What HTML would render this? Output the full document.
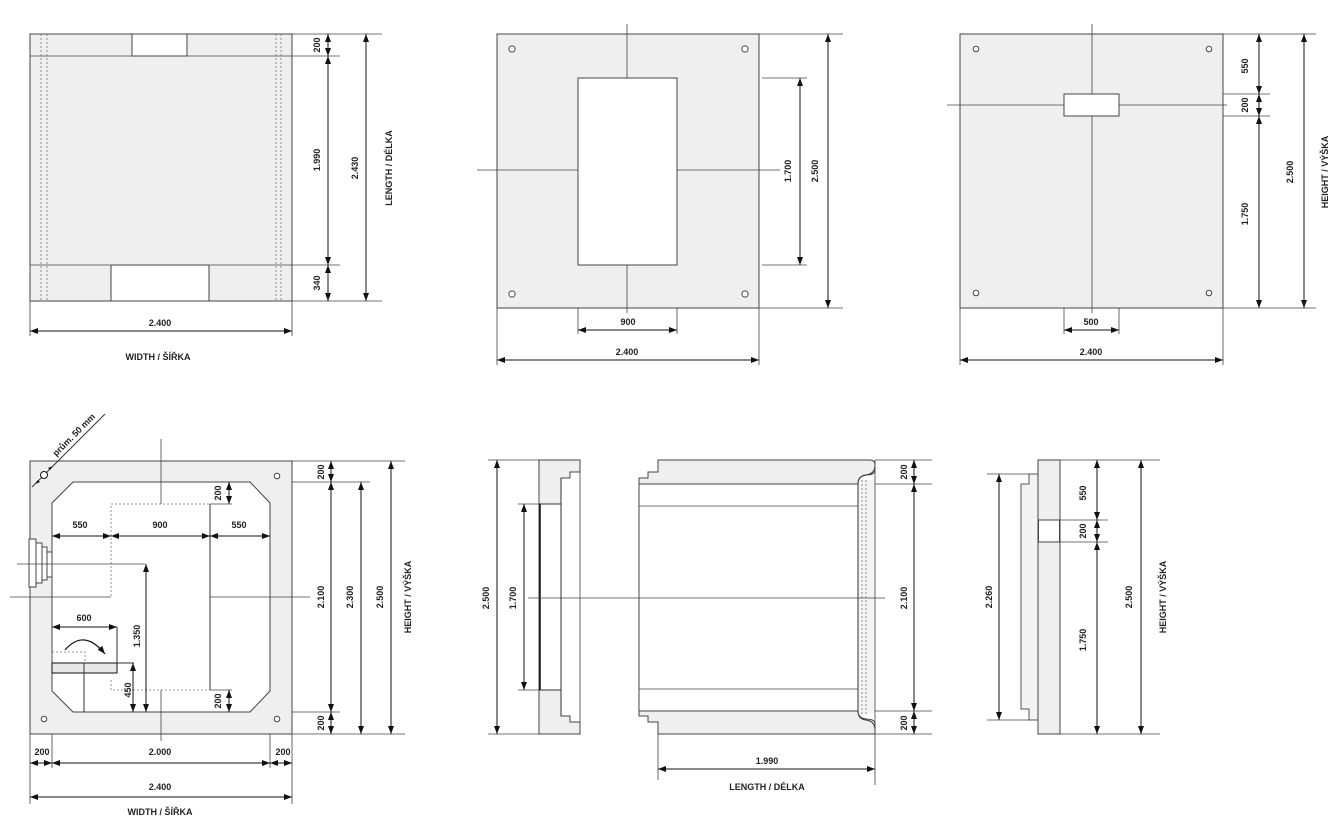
<!DOCTYPE html>
<html><head><meta charset="utf-8"><style>
html,body{margin:0;padding:0;background:#fff}
svg{display:block}
text{font-family:"Liberation Sans",Arial,sans-serif;font-weight:bold;font-size:9px;fill:#222}
.o{stroke:#333;stroke-width:1;fill:none}
.g{fill:#efefef;stroke:#444;stroke-width:1}
.w{fill:#fff;stroke:#444;stroke-width:1}
.t{stroke:#444;stroke-width:0.8;fill:none}
.d{stroke:#111;stroke-width:1;fill:none}
.dash{stroke:#777;stroke-width:0.8;stroke-dasharray:2,2;fill:none}
</style></head><body>
<svg width="1340" height="832" viewBox="0 0 1340 832" xmlns="http://www.w3.org/2000/svg">
<defs>
<marker id="a" viewBox="0 0 8 6" refX="8" refY="3" markerWidth="8" markerHeight="6" markerUnits="userSpaceOnUse" orient="auto-start-reverse"><path d="M0,0 L8,3 L0,6 z" fill="#111"/></marker>
</defs>
<g id="p1">
<rect class="g" x="30" y="34" width="262" height="267"/>
<rect class="w" x="132" y="34" width="55" height="22"/>
<rect class="w" x="111" y="265" width="98" height="36"/>
<line class="t" x1="30" y1="56" x2="340" y2="56"/>
<line class="t" x1="30" y1="265" x2="340" y2="265"/>
<line class="dash" x1="41" y1="34" x2="41" y2="301"/><line class="dash" x1="47" y1="34" x2="47" y2="301"/>
<line class="dash" x1="276" y1="34" x2="276" y2="301"/><line class="dash" x1="281" y1="34" x2="281" y2="301"/>
<line class="t" x1="292" y1="34" x2="382" y2="34"/><line class="t" x1="292" y1="301" x2="382" y2="301"/>
<line class="d" x1="328" y1="34" x2="328" y2="56" marker-start="url(#a)" marker-end="url(#a)"/>
<line class="d" x1="328" y1="56" x2="328" y2="265" marker-start="url(#a)" marker-end="url(#a)"/>
<line class="d" x1="328" y1="265" x2="328" y2="301" marker-start="url(#a)" marker-end="url(#a)"/>
<line class="d" x1="366" y1="34" x2="366" y2="301" marker-start="url(#a)" marker-end="url(#a)"/>
<text transform="translate(320,45) rotate(-90)" text-anchor="middle">200</text>
<text transform="translate(320,160) rotate(-90)" text-anchor="middle">1.990</text>
<text transform="translate(320,283) rotate(-90)" text-anchor="middle">340</text>
<text transform="translate(358,168) rotate(-90)" text-anchor="middle">2.430</text>
<text transform="translate(392,168) rotate(-90)" text-anchor="middle">LENGTH / DÉLKA</text>
<line class="t" x1="30" y1="301" x2="30" y2="336"/><line class="t" x1="292" y1="301" x2="292" y2="336"/>
<line class="d" x1="30" y1="331" x2="292" y2="331" marker-start="url(#a)" marker-end="url(#a)"/>
<text x="160" y="326" text-anchor="middle">2.400</text>
<text x="158" y="360" text-anchor="middle">WIDTH / ŠÍŘKA</text>
</g>
<g id="p2">
<rect class="g" x="497" y="34" width="262" height="274"/>
<rect class="w" x="578" y="78" width="99" height="187"/>
<rect class="w" x="509" y="46" width="6" height="6" rx="2.5"/><rect class="w" x="742" y="46" width="6" height="6" rx="2.5"/>
<rect class="w" x="509" y="291" width="6" height="6" rx="2.5"/><rect class="w" x="742" y="291" width="6" height="6" rx="2.5"/>
<line class="t" x1="627" y1="24" x2="627" y2="78"/><line class="t" x1="627" y1="265" x2="627" y2="313"/>
<line class="t" x1="477" y1="170" x2="578" y2="170"/><line class="t" x1="677" y1="170" x2="780" y2="170"/>
<line class="t" x1="762" y1="78" x2="807" y2="78"/><line class="t" x1="762" y1="265" x2="807" y2="265"/>
<line class="t" x1="759" y1="34" x2="843" y2="34"/><line class="t" x1="759" y1="308" x2="843" y2="308"/>
<line class="d" x1="800" y1="78" x2="800" y2="265" marker-start="url(#a)" marker-end="url(#a)"/>
<line class="d" x1="828" y1="34" x2="828" y2="308" marker-start="url(#a)" marker-end="url(#a)"/>
<text transform="translate(791,171) rotate(-90)" text-anchor="middle">1.700</text>
<text transform="translate(818,171) rotate(-90)" text-anchor="middle">2.500</text>
<line class="t" x1="578" y1="308" x2="578" y2="334"/><line class="t" x1="677" y1="308" x2="677" y2="334"/>
<line class="d" x1="578" y1="330" x2="677" y2="330" marker-start="url(#a)" marker-end="url(#a)"/>
<text x="628" y="325" text-anchor="middle">900</text>
<line class="t" x1="497" y1="308" x2="497" y2="365"/><line class="t" x1="759" y1="308" x2="759" y2="365"/>
<line class="d" x1="497" y1="360" x2="759" y2="360" marker-start="url(#a)" marker-end="url(#a)"/>
<text x="627" y="355" text-anchor="middle">2.400</text>
</g>
<g id="p3">
<rect class="g" x="960" y="34" width="263" height="274"/>
<line class="t" x1="1092" y1="24" x2="1092" y2="313"/>
<line class="t" x1="947" y1="105" x2="1227" y2="105"/>
<rect class="w" x="1064" y="94" width="55" height="22"/>
<circle class="w" cx="976" cy="49" r="2.8"/><circle class="w" cx="1209" cy="49" r="2.8"/>
<circle class="w" cx="976" cy="293" r="2.8"/><circle class="w" cx="1209" cy="293" r="2.8"/>
<line class="t" x1="1223" y1="94" x2="1270" y2="94"/><line class="t" x1="1223" y1="116" x2="1270" y2="116"/>
<line class="t" x1="1223" y1="34" x2="1316" y2="34"/><line class="t" x1="1223" y1="308" x2="1316" y2="308"/>
<line class="d" x1="1259" y1="34" x2="1259" y2="94" marker-start="url(#a)" marker-end="url(#a)"/>
<line class="d" x1="1259" y1="94" x2="1259" y2="116" marker-start="url(#a)" marker-end="url(#a)"/>
<line class="d" x1="1259" y1="116" x2="1259" y2="308" marker-start="url(#a)" marker-end="url(#a)"/>
<line class="d" x1="1304" y1="34" x2="1304" y2="308" marker-start="url(#a)" marker-end="url(#a)"/>
<text transform="translate(1248,66) rotate(-90)" text-anchor="middle">550</text>
<text transform="translate(1248,105) rotate(-90)" text-anchor="middle">200</text>
<text transform="translate(1248,214) rotate(-90)" text-anchor="middle">1.750</text>
<text transform="translate(1293,172) rotate(-90)" text-anchor="middle">2.500</text>
<text transform="translate(1328,172) rotate(-90)" text-anchor="middle">HEIGHT / VÝŠKA</text>
<line class="t" x1="1064" y1="308" x2="1064" y2="334"/><line class="t" x1="1119" y1="308" x2="1119" y2="334"/>
<line class="d" x1="1064" y1="330" x2="1119" y2="330" marker-start="url(#a)" marker-end="url(#a)"/>
<text x="1091" y="325" text-anchor="middle">500</text>
<line class="t" x1="960" y1="308" x2="960" y2="365"/><line class="t" x1="1223" y1="308" x2="1223" y2="365"/>
<line class="d" x1="960" y1="360" x2="1223" y2="360" marker-start="url(#a)" marker-end="url(#a)"/>
<text x="1091" y="355" text-anchor="middle">2.400</text>
</g>
<g id="p4">
<rect class="g" x="30" y="461" width="262" height="273"/>
<path class="w" d="M73,482 L250,482 L270,503 L270,691 L250,712 L73,712 L52,691 L52,503 Z"/>
<rect class="w" x="29" y="539" width="7" height="48"/><rect class="w" x="36" y="543" width="6" height="40"/><rect class="w" x="42" y="547" width="5" height="33"/><rect class="w" x="47" y="552" width="5" height="25"/>
<circle class="w" cx="44" cy="719" r="2.8"/><circle class="w" cx="277" cy="476" r="2.8"/><circle class="w" cx="277" cy="719" r="2.8"/>
<path class="dash" d="M111,596 L111,504 L210,504 M111,680 L111,690 L210,690"/>
<line class="o" x1="210" y1="504" x2="210" y2="690"/>
<line class="t" x1="210" y1="504" x2="232" y2="504"/><line class="t" x1="210" y1="690" x2="232" y2="690"/>
<line class="t" x1="161" y1="439" x2="161" y2="504"/><line class="t" x1="161" y1="690" x2="161" y2="741"/>
<line class="t" x1="10" y1="597" x2="111" y2="597"/><line class="t" x1="210" y1="597" x2="310" y2="597"/>
<line class="t" x1="17" y1="564" x2="145" y2="564"/>
<line class="d" x1="52" y1="536" x2="111" y2="536" marker-start="url(#a)" marker-end="url(#a)"/>
<line class="d" x1="111" y1="536" x2="210" y2="536" marker-start="url(#a)" marker-end="url(#a)"/>
<line class="d" x1="210" y1="536" x2="270" y2="536" marker-start="url(#a)" marker-end="url(#a)"/>
<text x="80" y="528" text-anchor="middle">550</text><text x="160" y="528" text-anchor="middle">900</text><text x="239" y="528" text-anchor="middle">550</text>
<line class="d" x1="229" y1="482" x2="229" y2="504" marker-start="url(#a)" marker-end="url(#a)"/>
<line class="d" x1="229" y1="690" x2="229" y2="712" marker-start="url(#a)" marker-end="url(#a)"/>
<text transform="translate(221,493) rotate(-90)" text-anchor="middle">200</text>
<text transform="translate(221,701) rotate(-90)" text-anchor="middle">200</text>
<line class="d" x1="52" y1="627" x2="117" y2="627" marker-start="url(#a)" marker-end="url(#a)"/>
<text x="84" y="621" text-anchor="middle">600</text>
<line class="o" x1="117" y1="627" x2="117" y2="673"/>
<rect class="dash" x="52" y="652" width="33" height="11"/>
<rect x="52" y="663" width="65" height="10" fill="#e8e8e8" stroke="#111" stroke-width="1"/>
<line class="o" x1="84" y1="663" x2="84" y2="712"/>
<line class="o" x1="117" y1="663" x2="134" y2="663"/>
<path d="M65,650 Q84,628 105,654" fill="none" stroke="#111" stroke-width="1.2" marker-end="url(#a)"/>
<line class="d" x1="146" y1="564" x2="146" y2="712" marker-start="url(#a)" marker-end="url(#a)"/>
<line class="d" x1="133" y1="663" x2="133" y2="712" marker-start="url(#a)" marker-end="url(#a)"/>
<text transform="translate(140,636) rotate(-90)" text-anchor="middle">1.350</text>
<text transform="translate(131,690) rotate(-90)" text-anchor="middle">450</text>
<line class="t" x1="292" y1="461" x2="405" y2="461"/><line class="t" x1="292" y1="482" x2="370" y2="482"/>
<line class="t" x1="292" y1="712" x2="340" y2="712"/><line class="t" x1="292" y1="734" x2="405" y2="734"/>
<line class="d" x1="331" y1="461" x2="331" y2="482" marker-start="url(#a)" marker-end="url(#a)"/>
<line class="d" x1="331" y1="482" x2="331" y2="712" marker-start="url(#a)" marker-end="url(#a)"/>
<line class="d" x1="331" y1="712" x2="331" y2="734" marker-start="url(#a)" marker-end="url(#a)"/>
<line class="d" x1="361" y1="482" x2="361" y2="734" marker-start="url(#a)" marker-end="url(#a)"/>
<line class="d" x1="391" y1="461" x2="391" y2="734" marker-start="url(#a)" marker-end="url(#a)"/>
<text transform="translate(324,472) rotate(-90)" text-anchor="middle">200</text>
<text transform="translate(324,597) rotate(-90)" text-anchor="middle">2.100</text>
<text transform="translate(324,723) rotate(-90)" text-anchor="middle">200</text>
<text transform="translate(353,597) rotate(-90)" text-anchor="middle">2.300</text>
<text transform="translate(383,597) rotate(-90)" text-anchor="middle">2.500</text>
<text transform="translate(411,597) rotate(-90)" text-anchor="middle">HEIGHT / VÝŠKA</text>
<line class="t" x1="30" y1="734" x2="30" y2="804"/><line class="t" x1="52" y1="734" x2="52" y2="768"/>
<line class="t" x1="270" y1="734" x2="270" y2="768"/><line class="t" x1="292" y1="734" x2="292" y2="804"/>
<line class="d" x1="30" y1="763" x2="52" y2="763" marker-start="url(#a)" marker-end="url(#a)"/>
<line class="d" x1="52" y1="763" x2="270" y2="763" marker-start="url(#a)" marker-end="url(#a)"/>
<line class="d" x1="270" y1="763" x2="292" y2="763" marker-start="url(#a)" marker-end="url(#a)"/>
<text x="42" y="755" text-anchor="middle">200</text><text x="160" y="755" text-anchor="middle">2.000</text><text x="283" y="755" text-anchor="middle">200</text>
<line class="d" x1="30" y1="797" x2="292" y2="797" marker-start="url(#a)" marker-end="url(#a)"/>
<text x="160" y="790" text-anchor="middle">2.400</text>
<text x="160" y="815" text-anchor="middle">WIDTH / ŠÍŘKA</text>
<line class="o" x1="32" y1="487" x2="105" y2="414"/>
<circle cx="44" cy="475" r="3.5" fill="#fff" stroke="#111" stroke-width="1"/>
<path d="M35,484 L40,482 L38,480 Z M53,466 L48,468 L50,470 Z" fill="#111"/>
<text transform="translate(76,437) rotate(-45)" text-anchor="middle">prům. 50 mm</text>
</g>
<g id="p5">
<path class="g" d="M539,460 L580,460 L580,472 L570,472 L570,478 L561,478 L561,716 L570,716 L570,722 L580,722 L580,734 L539,734 Z"/>
<rect x="539.5" y="504" width="21" height="186" fill="#fff"/>
<line class="t" x1="580" y1="472" x2="580" y2="722"/>
<line class="o" x1="539" y1="504" x2="561" y2="504"/><line class="o" x1="539" y1="690" x2="561" y2="690"/>
<line x1="540" y1="504" x2="540" y2="690" stroke="#111" stroke-width="1.5"/>
<line class="o" x1="561" y1="478" x2="561" y2="716"/>
<line class="t" x1="488" y1="460" x2="539" y2="460"/><line class="t" x1="488" y1="734" x2="539" y2="734"/>
<line class="t" x1="518" y1="504" x2="539" y2="504"/><line class="t" x1="518" y1="690" x2="539" y2="690"/>
<line class="d" x1="497" y1="460" x2="497" y2="734" marker-start="url(#a)" marker-end="url(#a)"/>
<line class="d" x1="524" y1="504" x2="524" y2="690" marker-start="url(#a)" marker-end="url(#a)"/>
<text transform="translate(489,598) rotate(-90)" text-anchor="middle">2.500</text>
<text transform="translate(516,598) rotate(-90)" text-anchor="middle">1.700</text>
<path class="g" d="M658,460 L870,460 Q875,460 875,465 L875,470 Q875,475 866,475 Q858,476 858,484 L639,484 L639,478 L648,478 L648,472 L658,472 Z"/>
<path class="g" d="M658,734 L870,734 L875,734 L875,724 Q875,719 866,719 Q858,718 858,711 L639,711 L639,716 L648,716 L648,722 L658,722 Z"/>
<rect class="w" x="639" y="484" width="219" height="227"/>
<line class="t" x1="639" y1="506" x2="858" y2="506"/><line class="t" x1="639" y1="689" x2="858" y2="689"/>
<rect x="858" y="480" width="17" height="234" fill="#f4f4f4" stroke="none"/>
<path class="o" d="M858,484 Q858,476 866,475 Q875,474 875,465 M858,711 Q858,719 866,720 Q875,721 875,730"/>
<line class="o" x1="858" y1="484" x2="858" y2="711"/>
<line class="dash" x1="862" y1="480" x2="862" y2="714"/><line class="dash" x1="866" y1="480" x2="866" y2="714"/>
<line class="t" x1="875" y1="460" x2="875" y2="785"/>
<line class="t" x1="528" y1="598" x2="885" y2="598"/>
<line class="t" x1="875" y1="460" x2="932" y2="460"/><line class="t" x1="875" y1="484" x2="932" y2="484"/>
<line class="t" x1="875" y1="711" x2="932" y2="711"/><line class="t" x1="875" y1="734" x2="932" y2="734"/>
<line class="d" x1="914" y1="460" x2="914" y2="484" marker-start="url(#a)" marker-end="url(#a)"/>
<line class="d" x1="914" y1="484" x2="914" y2="711" marker-start="url(#a)" marker-end="url(#a)"/>
<line class="d" x1="914" y1="711" x2="914" y2="734" marker-start="url(#a)" marker-end="url(#a)"/>
<text transform="translate(907,472) rotate(-90)" text-anchor="middle">200</text>
<text transform="translate(907,598) rotate(-90)" text-anchor="middle">2.100</text>
<text transform="translate(907,723) rotate(-90)" text-anchor="middle">200</text>
<line class="t" x1="658" y1="734" x2="658" y2="780"/>
<line class="d" x1="658" y1="769" x2="875" y2="769" marker-start="url(#a)" marker-end="url(#a)"/>
<text x="767" y="764" text-anchor="middle">1.990</text>
<text x="767" y="790" text-anchor="middle">LENGTH / DÉLKA</text>
</g>
<g id="p6">
<path d="M1038,474 L1029,474 L1029,484 L1021,484 L1021,709 L1029,709 L1029,720 L1038,720 Z" fill="#f3f3f3" stroke="#555" stroke-width="1"/>
<rect class="g" x="1038" y="460" width="22" height="274"/>
<rect x="1038.5" y="520" width="21" height="22" fill="#fff" stroke="#444" stroke-width="1"/>
<line class="t" x1="987" y1="474" x2="1030" y2="474"/><line class="t" x1="987" y1="720" x2="1030" y2="720"/>
<line class="d" x1="999" y1="474" x2="999" y2="720" marker-start="url(#a)" marker-end="url(#a)"/>
<text transform="translate(992,597) rotate(-90)" text-anchor="middle">2.260</text>
<line class="t" x1="1060" y1="460" x2="1160" y2="460"/><line class="t" x1="1060" y1="734" x2="1160" y2="734"/>
<line class="t" x1="1060" y1="520" x2="1108" y2="520"/><line class="t" x1="1060" y1="542" x2="1108" y2="542"/>
<line class="d" x1="1097" y1="460" x2="1097" y2="520" marker-start="url(#a)" marker-end="url(#a)"/>
<line class="d" x1="1097" y1="520" x2="1097" y2="542" marker-start="url(#a)" marker-end="url(#a)"/>
<line class="d" x1="1097" y1="542" x2="1097" y2="734" marker-start="url(#a)" marker-end="url(#a)"/>
<line class="d" x1="1141" y1="460" x2="1141" y2="734" marker-start="url(#a)" marker-end="url(#a)"/>
<text transform="translate(1086,493) rotate(-90)" text-anchor="middle">550</text>
<text transform="translate(1086,531) rotate(-90)" text-anchor="middle">200</text>
<text transform="translate(1086,640) rotate(-90)" text-anchor="middle">1.750</text>
<text transform="translate(1132,597) rotate(-90)" text-anchor="middle">2.500</text>
<text transform="translate(1166,597) rotate(-90)" text-anchor="middle">HEIGHT / VÝŠKA</text>
</g>
</svg>
</body></html>
